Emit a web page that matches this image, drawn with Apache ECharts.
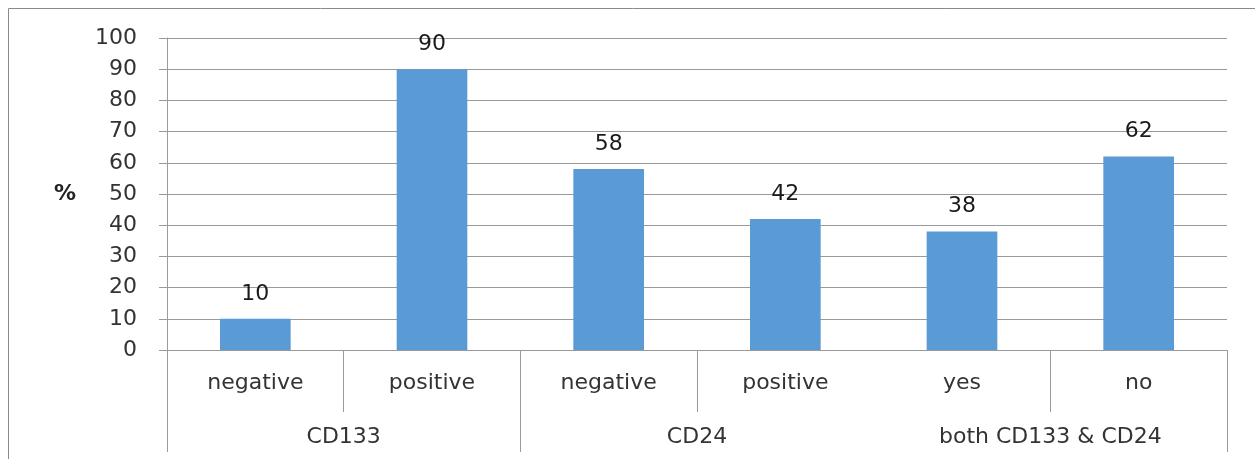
<!DOCTYPE html>
<html>
<head>
<meta charset="utf-8">
<script src="https://cdn.jsdelivr.net/npm/echarts@6/dist/echarts.min.js"></script>
<style>
html,body{margin:0;padding:0;background:#fff;}
#c{width:1255px;height:459px;}
</style>
</head>
<body>
<div id="c"></div>
<script>
const categories = ['negative', 'positive', 'negative', 'positive', 'yes', 'no'];
const groups = ['CD133', 'CD24', 'both CD133 & CD24'];
const values = [10, 90, 58, 42, 38, 62];
const yTicks = { min: 0, max: 100, interval: 10 };
const yName = '%';

const FONT = 'DejaVu Sans';
const chart = echarts.init(document.getElementById('c'), null, { renderer: 'canvas' });
const lineColor = '#9a9a9a';

chart.setOption({
  animation: false,
  backgroundColor: '#fff',
  grid: { left: 167, right: 28, top: 38, bottom: 109, containLabel: false },
  graphic: [{
    type: 'rect', silent: true,
    shape: { x: 8.5, y: 8.5, width: 1260, height: 470 },
    style: { fill: 'none', stroke: '#8a8a8a', lineWidth: 1 }
  }],
  xAxis: [{
    type: 'category', data: categories, position: 'bottom', offset: 0,
    axisLine: { show: true, lineStyle: { color: lineColor, width: 1 } },
    axisTick: { show: true, length: 62, lineStyle: { color: lineColor },
      interval: function (i) { return i !== 4; } },
    axisLabel: { margin: 22, fontFamily: FONT, fontSize: 22, color: '#333' },
    splitLine: { show: false }
  }, {
    type: 'category', data: groups, position: 'bottom', offset: 0,
    axisLine: { show: false },
    axisTick: { show: true, length: 102, lineStyle: { color: lineColor },
      interval: function (i) { return i < 2; } },
    axisLabel: { margin: 76, fontFamily: FONT, fontSize: 22, color: '#333', interval: 0 },
    splitLine: { show: false }
  }],
  yAxis: {
    type: 'value', min: yTicks.min, max: yTicks.max, interval: yTicks.interval,
    name: yName, nameLocation: 'middle', nameRotate: 0, nameGap: 91,
    nameTextStyle: { fontFamily: FONT, fontSize: 22, fontWeight: 'bold', color: '#222' },
    axisLine: { show: true, lineStyle: { color: lineColor } },
    axisTick: { show: true, length: 8, lineStyle: { color: lineColor } },
    axisLabel: { margin: 30, fontFamily: FONT, fontSize: 22, color: '#333' },
    splitLine: { show: true, lineStyle: { color: lineColor, width: 1 } }
  },
  series: [{
    type: 'bar', data: values, xAxisIndex: 0, barWidth: '40%',
    itemStyle: { color: '#5B9BD5' },
    label: { show: true, position: 'top', distance: 14, fontFamily: FONT, fontSize: 22, color: '#1a1a1a' }
  }]
});
</script>
</body>
</html>
